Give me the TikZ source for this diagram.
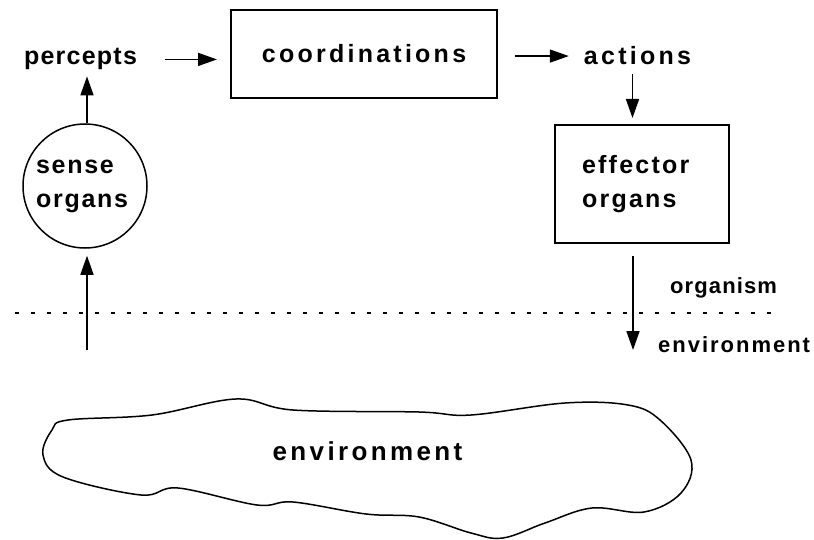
\documentclass[tikz,border=0pt]{standalone}
\usepackage{fontspec}
\newfontfamily\lblfont{Liberation Sans}
\usetikzlibrary{arrows.meta}
\tikzset{
  lbl/.style={font=\lblfont\bfseries\addfontfeature{LetterSpace=#1}\fontsize{25}{34}\selectfont, inner sep=0pt},
  small/.style={font=\lblfont\bfseries\addfontfeature{LetterSpace=#1}\fontsize{22}{28}\selectfont, inner sep=0pt},
  boxed/.style={draw, line width=2pt},
  arr/.style={line width=1.6pt, -{Triangle[length=19pt,width=13pt]}},
}
\begin{document}
\begin{tikzpicture}[x=1pt,y=-1pt]
\useasboundingbox (0,0) rectangle (814,540);
% top row
\node[lbl=5, anchor=base] (percepts) at (80.5,65) {percepts};
\node[lbl=13, boxed, minimum width=266pt, minimum height=88pt] (coord) at (364,54) {coordinations};
\node[lbl=13, anchor=base] (actions) at (637.5,65) {actions};
% sense organs
\node[lbl=7, draw, line width=1.5pt, circle, minimum size=124pt, text width=98pt, align=left] (sense) at (85,186) {sense\\organs};
% effector organs
\node[lbl=9, boxed, text width=120pt, inner xsep=27pt, minimum height=118pt, align=left] (effector) at (642,184) {effector\\organs};
% boundary
\coordinate (dl) at (15,313);
\coordinate (dr) at (782,313);
\draw[line width=1.5pt, dash pattern=on 3.5pt off 12.5pt] (dl) -- (dr);
\node[small=5, anchor=base west] (organism) at (670,293) {organism};
\node[small=9, anchor=base west] (envlabel) at (658,352) {environment};
% free ends
\coordinate (sensein) at (87,350);
\coordinate (effout) at (633,350);
% connectors
\draw[arr, shorten <=28pt, shorten >=13pt] (percepts.east) -- (percepts.east -| coord.west);
\draw[arr, shorten <=17pt, shorten >=15pt] (coord.east |- actions.west) -- (actions.west);
\draw[arr, shorten >=6pt] ([xshift=-5pt,yshift=-9pt]actions.south) -- ([xshift=-5pt]actions.south |- effector.north);
\draw[arr, shorten >=6pt] (sense.north -| sensein) -- (sensein |- percepts.south);
\draw[arr, shorten >=7pt] (sensein) -- (sensein |- sense.south);
\draw[arr, shorten <=12pt] (effout |- effector.south) -- (effout);
% environment blob
\draw[line width=1.5pt] plot[smooth cycle, tension=0.6] coordinates {
 (68,420) (152,415) (236,399) (293,410) (419,412) (471,415) (565,403) (628,405)
 (660,420) (691,460) (681,493) (644,512) (592,508) (545,523) (503,538) (471,533)
 (419,517) (366,514) (293,502) (257,505) (178,488) (141,495) (63,477) (43,455) (52,430)};
\node[font=\lblfont\bfseries\addfontfeature{LetterSpace=13}\fontsize{26}{30}\selectfont, inner sep=0pt, anchor=base] (env) at (367.5,460) {environment};
\end{tikzpicture}
\end{document}
